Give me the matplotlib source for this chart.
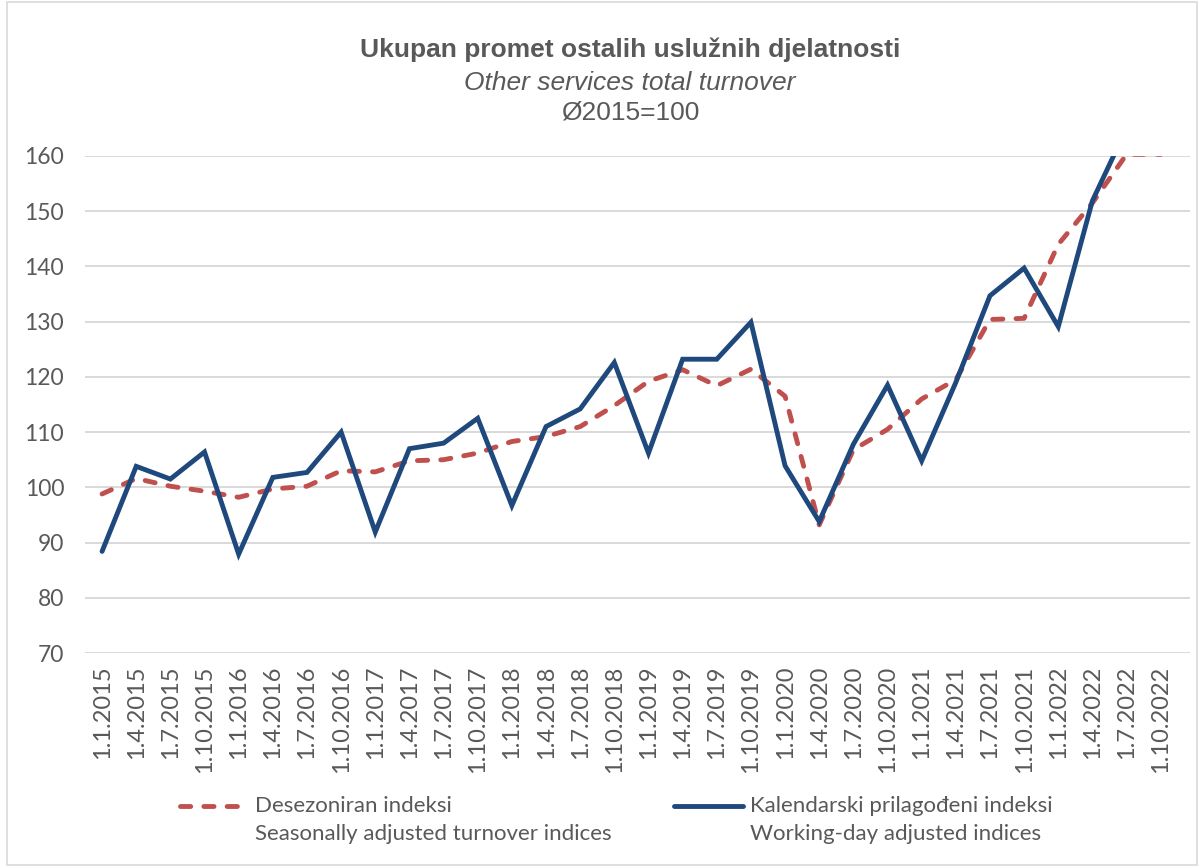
import matplotlib
matplotlib.use("Agg")
import matplotlib.pyplot as plt
from matplotlib.lines import Line2D
from matplotlib.patches import Rectangle
import numpy as np

categories = [f"1.{m}.{y}" for y in range(2015, 2023) for m in (1, 4, 7, 10)]

seasonally_adjusted = [98.8, 101.6, 100.2, 99.3, 98.2, 99.7, 100.2, 103.0,
                       102.8, 104.8, 105.0, 106.2, 108.3, 109.2, 111.0, 114.8,
                       119.2, 121.3, 118.4, 121.4, 116.5, 93.2, 106.8, 110.5,
                       116.0, 119.5, 130.4, 130.6, 144.0, 151.5, 160.3, 160.3]

working_day_adjusted = [88.4, 103.8, 101.5, 106.4, 87.9, 101.8, 102.7, 110.0,
                        91.9, 107.0, 108.0, 112.5, 96.7, 111.0, 114.2, 122.6,
                        106.2, 123.2, 123.2, 129.9, 103.9, 93.8, 107.8, 118.5,
                        104.8, 119.0, 134.7, 139.7, 129.1, 151.9, 165.0, 166.0]

yticks = [70, 80, 90, 100, 110, 120, 130, 140, 150, 160]

title_hr = "Ukupan promet ostalih uslužnih djelatnosti"
title_en = "Other services total turnover"
title_base = "Ø2015=100"
label_sa = ("Desezoniran indeksi", "Seasonally adjusted turnover indices")
label_wd = ("Kalendarski prilagođeni indeksi", "Working-day adjusted indices")

RED = "#C0504D"
BLUE = "#1F497D"
GREY = "#595959"
LW = 3.5
DASH = (2.1, 2.7)

plt.rcParams['font.family'] = ['Lato', 'DejaVu Sans']

fig = plt.figure(figsize=(12, 8.67), dpi=100)
ax = fig.add_axes([85/1200, 1 - 653/867, (1190-85)/1200, (653-156)/867])

x = np.arange(len(categories))
ax.plot(x, seasonally_adjusted, color=RED, lw=LW, dashes=DASH,
        dash_capstyle='round', solid_capstyle='round', zorder=3)
ax.plot(x, working_day_adjusted, color=BLUE, lw=LW,
        solid_capstyle='round', solid_joinstyle='miter', zorder=4)

ax.set_xlim(-0.5, -0.5 + (1190-85)/34.15)
ax.set_ylim(70, 160)
ax.set_yticks(yticks)
ax.set_yticklabels([str(v) for v in yticks], fontsize=16.5, color=GREY)
ax.set_xticks(x)
ax.set_xticklabels(categories, rotation=90, fontsize=17, color=GREY)
ax.tick_params(axis='both', length=0)
ax.tick_params(axis='y', pad=15)
ax.tick_params(axis='x', pad=9)
ax.grid(axis='y', color='#D9D9D9', lw=1.4)
ax.set_axisbelow(True)
for s in ax.spines.values():
    s.set_visible(False)

# Titles
tfam = ['Liberation Sans', 'DejaVu Sans']
tx = 630/1200
fig.text(tx, 1 - 50/867, title_hr, ha='center', va='center', fontsize=19,
         fontweight='bold', color=GREY, family=tfam)
fig.text(tx, 1 - 83/867, title_en, ha='center', va='center', fontsize=19,
         style='italic', color=GREY, family=tfam)
fig.text(tx, 1 - 113/867, title_base, ha='center', va='center', fontsize=19,
         color=GREY, family=tfam)

# Legend (manual)
def legend_entry(x0, x1, xt, color, dashed, lines):
    yl = 1 - 806/867
    kw = dict(color=color, lw=LW, transform=fig.transFigure)
    if dashed:
        kw.update(dashes=DASH, dash_capstyle='round')
    else:
        kw.update(solid_capstyle='round')
    fig.add_artist(Line2D([x0/1200, x1/1200], [yl, yl], **kw))
    fig.text(xt/1200, yl, lines[0], ha='left', va='center', fontsize=16, color=GREY)
    fig.text(xt/1200, 1 - 834/867, lines[1], ha='left', va='center', fontsize=16, color=GREY)

legend_entry(180, 237, 255, RED, True, label_sa)
legend_entry(674, 743, 750, BLUE, False, label_wd)

# chart border
fig.add_artist(Rectangle((7/1200, 0.002), 1 - 10/1200, 0.996, transform=fig.transFigure,
                         fill=False, edgecolor='#D9D9D9', lw=1.2))

fig.savefig("out.png", dpi=100, facecolor='white')
